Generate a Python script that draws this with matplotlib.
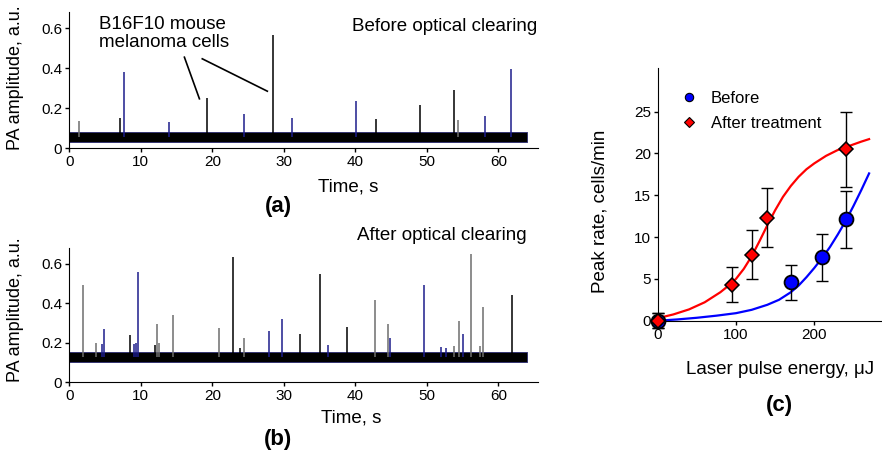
import matplotlib
matplotlib.use('Agg')
import matplotlib.pyplot as plt
from matplotlib.lines import Line2D

plt.rcParams['font.family'] = ['Liberation Sans', 'DejaVu Sans']

# (a) before optical clearing: spike times (s), peak amplitudes (a.u.)
a_times = [1.3, 7.1, 7.7, 14.0, 19.2, 24.4, 28.5, 31.1, 40.1, 42.9, 49.1, 53.8, 54.4, 58.2, 61.8]
a_peaks = [0.134, 0.15, 0.38, 0.13, 0.25, 0.17, 0.567, 0.152, 0.236, 0.147, 0.216, 0.29, 0.142, 0.16, 0.397]
a_cols = ['g', 'k', 'b', 'b', 'k', 'b', 'k', 'b', 'b', 'k', 'k', 'k', 'g', 'b', 'b']
a_band = (0.03, 0.08)

# (b) after optical clearing
b_times = [1.97, 3.75, 4.55, 4.9, 8.5, 9.1, 9.3, 9.6, 12.0, 12.2, 12.55, 14.5, 20.9, 22.9, 23.9,
           24.5, 27.9, 29.8, 32.2, 35.1, 36.2, 38.9, 42.7, 44.6, 44.8, 49.6, 52.0, 52.7, 53.8,
           54.5, 55.1, 56.2, 57.5, 57.8, 61.9]
b_peaks = [0.49, 0.20, 0.195, 0.27, 0.24, 0.195, 0.2, 0.557, 0.187, 0.295, 0.198, 0.342, 0.275, 0.632, 0.175,
           0.225, 0.257, 0.318, 0.242, 0.548, 0.188, 0.278, 0.418, 0.293, 0.225, 0.49, 0.178, 0.175, 0.185,
           0.308, 0.245, 0.65, 0.185, 0.382, 0.44]
b_cols = ['g', 'g', 'b', 'b', 'k', 'b', 'b', 'b', 'k', 'g', 'g', 'g', 'g', 'k', 'k',
          'g', 'b', 'b', 'k', 'k', 'b', 'k', 'g', 'g', 'b', 'b', 'b', 'b', 'g',
          'g', 'b', 'g', 'g', 'g', 'k']
b_band = (0.10, 0.152)
t_end = 64

# (c) peak rate vs laser pulse energy
before_x = [0, 170, 210, 240]
before_y = [0, 4.6, 7.6, 12.1]
before_err = [0.9, 2.1, 2.8, 3.45]
after_x = [0, 95, 120, 140, 240]
after_y = [0, 4.3, 7.9, 12.3, 20.5]
after_err = [0.9, 2.1, 2.9, 3.55, 4.5]

# fitted curves
fit_after_x = [0, 20, 40, 60, 80, 90, 100, 110, 120, 130, 140, 150, 160, 170, 180, 190, 200, 215, 230, 245, 260, 270]
fit_after_y = [0.3, 0.75, 1.35, 2.2, 3.4, 4.15, 5.0, 6.2, 7.7, 9.5, 11.4, 13.2, 14.8, 16.1, 17.2, 18.1, 18.8,
               19.7, 20.4, 20.9, 21.4, 21.7]
fit_before_x = [0, 25, 50, 75, 100, 120, 140, 155, 170, 180, 190, 200, 210, 220, 230, 240, 250, 260, 270]
fit_before_y = [0.0, 0.15, 0.35, 0.6, 0.9, 1.3, 1.9, 2.5, 3.4, 4.2, 5.2, 6.3, 7.5, 8.8, 10.3, 11.9, 13.7, 15.6, 17.6]

W, H = 882, 455
colmap = {'k': 'black', 'g': '#6e6e6e', 'b': '#1c1c8c'}


def box(l, t, r, b):
    return [l / W, 1 - b / H, (r - l) / W, (b - t) / H]


def ftext(x, y, s, **kw):
    fig.text(x / W, 1 - y / H, s, **kw)


fig = plt.figure(figsize=(W / 100, H / 100), dpi=100)


def trace_axes(rect, times, peaks, cols, band):
    ax = fig.add_axes(rect)
    ax.fill_between([0, t_end], band[0], band[1], facecolor='black', edgecolor='#2a2a70', lw=0.6)
    mid = (band[0] + band[1]) / 2
    ax.vlines(times, mid, peaks, colors=[colmap[c] for c in cols], lw=1.1)
    ax.set_xlim(0, 65.6)
    ax.set_ylim(0, 0.68)
    ax.set_xticks([0, 10, 20, 30, 40, 50, 60])
    ax.set_yticks([0, 0.2, 0.4, 0.6])
    ax.set_yticklabels(['0', '0.2', '0.4', '0.6'])
    for s in ['top', 'right']:
        ax.spines[s].set_visible(False)
    ax.tick_params(labelsize=11, length=3, width=1, pad=2)
    return ax


ax_a = trace_axes(box(69.3, 12, 538.3, 148), a_times, a_peaks, a_cols, a_band)
ax_b = trace_axes(box(69.3, 248, 538.3, 382), b_times, b_peaks, b_cols, b_band)

# annotation in (a)
ftext(99, 33.7, 'B16F10 mouse\nmelanoma cells', fontsize=13.5, ha='left', va='center', linespacing=1.05)
ax_a.plot([16.1, 18.2], [0.454, 0.246], color='black', lw=1.2)
ax_a.plot([18.6, 27.7], [0.446, 0.284], color='black', lw=1.2)
ftext(537, 26.7, 'Before optical clearing', fontsize=13.5, ha='right', va='center')
ftext(527, 235, 'After optical clearing', fontsize=13.5, ha='right', va='center')

ftext(348, 187, 'Time, s', fontsize=13.5, ha='center', va='center')
ftext(351, 418, 'Time, s', fontsize=13.5, ha='center', va='center')
ftext(15, 78, 'PA amplitude, a.u.', fontsize=13, rotation=90, ha='center', va='center')
ftext(15, 310, 'PA amplitude, a.u.', fontsize=13, rotation=90, ha='center', va='center')
ftext(278, 207, '(a)', fontsize=16, fontweight='bold', ha='center', va='center')
ftext(278, 440, '(b)', fontsize=16, fontweight='bold', ha='center', va='center')

# (c)
ax_c = fig.add_axes(box(657.7, 68, 882, 320.7))
ax_c.plot(fit_after_x, fit_after_y, color='red', lw=1.6, zorder=2)
ax_c.plot(fit_before_x, fit_before_y, color='blue', lw=1.6, zorder=2)
ax_c.errorbar(before_x, before_y, yerr=before_err, fmt='none', ecolor='black', elinewidth=1,
              capsize=4, capthick=1, zorder=3, clip_on=False)
ax_c.errorbar(after_x, after_y, yerr=after_err, fmt='none', ecolor='black', elinewidth=1,
              capsize=4, capthick=1, zorder=3, clip_on=False)
ax_c.plot(before_x, before_y, 'o', color='blue', mec='black', mew=1.3, ms=10, zorder=4, clip_on=False)
ax_c.plot(after_x, after_y, 'D', color='red', mec='black', mew=1.1, ms=7, zorder=5, clip_on=False)
ax_c.set_xlim(0, 286.5)
ax_c.set_ylim(0, 30.2)
ax_c.set_xticks([0, 100, 200])
ax_c.set_yticks([0, 5, 10, 15, 20, 25])
for s in ['top', 'right']:
    ax_c.spines[s].set_visible(False)
ax_c.tick_params(labelsize=11, length=3, width=1, pad=2)

handles = [Line2D([], [], ls='none', marker='o', color='blue', mec='black', mew=0.8, ms=6),
           Line2D([], [], ls='none', marker='D', color='red', mec='black', mew=0.8, ms=5)]
ax_c.legend(handles, ['Before', 'After treatment'], loc='upper left', bbox_to_anchor=(0.035, 0.935),
            frameon=False, fontsize=12, handletextpad=0.3, labelspacing=0.6, borderaxespad=0)

ftext(780, 370, 'Laser pulse energy, \u03bcJ', fontsize=13.5, ha='center', va='center')
ftext(600, 211, 'Peak rate, cells/min', fontsize=13.5, rotation=90, ha='center', va='center')
ftext(779, 405, '(c)', fontsize=16, fontweight='bold', ha='center', va='center')

fig.savefig('out.png', dpi=100)
